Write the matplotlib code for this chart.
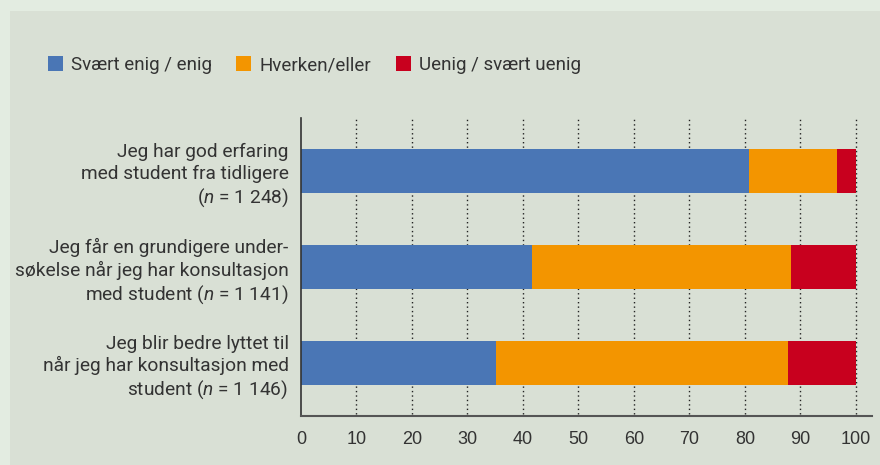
import matplotlib
matplotlib.use("Agg")
import matplotlib.pyplot as plt
from matplotlib.patches import Patch, Rectangle

plt.rcParams['font.family'] = ['Roboto', 'DejaVu Sans']
plt.rcParams['mathtext.fontset'] = 'custom'
plt.rcParams['mathtext.it'] = 'Roboto:italic'
plt.rcParams['mathtext.rm'] = 'Roboto'

categories = [
    "Jeg har god erfaring\nmed student fra tidligere\n($\\it{n}$ = 1 248)",
    "Jeg får en grundigere under-\nsøkelse når jeg har konsultasjon\nmed student ($\\it{n}$ = 1 141)",
    "Jeg blir bedre lyttet til\nnår jeg har konsultasjon med\nstudent ($\\it{n}$ = 1 146)",
]
series_names = ["Svært enig / enig", "Hverken/eller", "Uenig / svært uenig"]
enig = [80.7, 41.6, 35.1]
hverken = [15.9, 46.7, 52.6]
uenig = [3.4, 11.7, 12.3]
xticks = [0, 10, 20, 30, 40, 50, 60, 70, 80, 90, 100]

colors = ["#4a76b5", "#f39500", "#c8001e"]
text_color = "#333333"

W, H = 880, 465
fig = plt.figure(figsize=(W / 100, H / 100), dpi=100)
fig.patch.set_facecolor("#d9e0d5")
outer = "#e3ece1"
fig.patches.append(Rectangle((0, 1 - 11 / H), 1, 11 / H, transform=fig.transFigure,
                             facecolor=outer, edgecolor="none"))
fig.patches.append(Rectangle((0, 0), 10 / W, 1, transform=fig.transFigure,
                             facecolor=outer, edgecolor="none"))

ax = fig.add_axes([301 / W, 1 - 416 / H, (872 - 301) / W, (416 - 118) / H])
ax.set_facecolor("none")

ypos = list(range(len(categories)))
h = 0.458
left = [0] * len(categories)
for vals, c, name in zip([enig, hverken, uenig], colors, series_names):
    ax.barh(ypos, vals, left=left, height=h, color=c, label=name, zorder=2)
    left = [l + v for l, v in zip(left, vals)]

ax.set_xlim(0, 102.9)
ax.set_ylim(2.552, -0.552)
ax.set_xticks(xticks)
ax.set_xticklabels([str(t) for t in xticks], fontfamily="Liberation Sans", fontsize=13)
ax.set_yticks(ypos)
ax.set_yticklabels(categories, linespacing=1.22, ha="right", multialignment="right",
                   fontsize=13.8)
ax.tick_params(axis="both", length=0, colors=text_color)
ax.tick_params(axis="x", pad=11)
ax.tick_params(axis="y", pad=9)

for t in xticks[1:]:
    ax.axvline(t, ymin=0.008, ymax=1, color="#222222", linestyle=(0, (1, 2.2)),
               linewidth=1.0, zorder=1)

for s in ["top", "right"]:
    ax.spines[s].set_visible(False)
ax.spines["left"].set_color("#333333")
ax.spines["bottom"].set_color("#555555")
ax.spines["left"].set_linewidth(1.2)
ax.spines["bottom"].set_linewidth(1.5)

handles = [Patch(facecolor=c, edgecolor="none") for c in colors]
fig.legend(handles, series_names, loc="center left",
           bbox_to_anchor=(40 / W, 1 - 65 / H), ncol=3, frameon=False,
           fontsize=13.5, handlelength=0.8, handleheight=0.8,
           handletextpad=0.45, columnspacing=1.3, labelcolor=text_color,
           borderaxespad=0)

fig.savefig("out.png", dpi=100, facecolor=fig.get_facecolor())
